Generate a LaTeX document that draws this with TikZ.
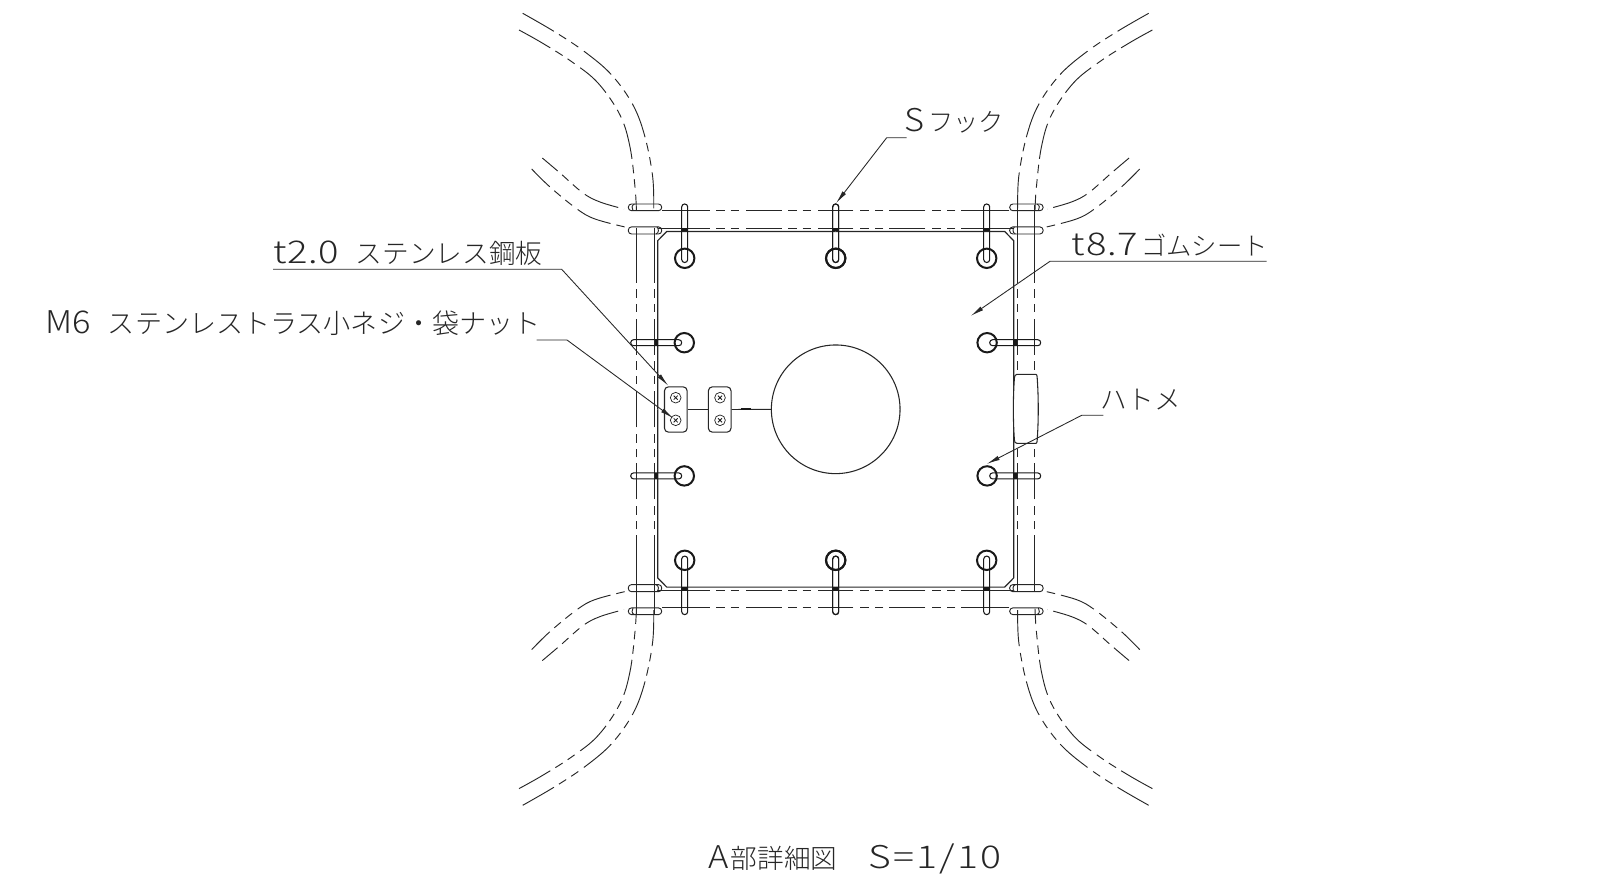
\documentclass[tikz,border=0pt]{standalone}
\usepackage{fontspec}
\setmainfont{Noto Sans CJK JP}[UprightFont=* Light,BoldFont=* Light]
\newfontfamily\jpf{Noto Sans CJK JP}[UprightFont=* Light,Scale=1]
\newcommand{\kn}[1]{{\fontsize{20pt}{22pt}\selectfont\jpf #1}}
\newcommand{\knm}[1]{{\fontsize{20.3pt}{22pt}\selectfont\jpf #1}}
\newcommand{\kns}[1]{{\fontsize{19pt}{22pt}\selectfont\jpf #1}}
\newcommand{\lt}[1]{{\fontsize{23.5pt}{25pt}\selectfont\jpf\addfontfeature{FakeStretch=1.22,LetterSpace=2} #1}}
\newcommand{\ltp}[1]{{\fontsize{23.5pt}{25pt}\selectfont\jpf\addfontfeature{FakeStretch=1.1} #1}}
\newcommand{\ltw}[1]{{\fontsize{23.5pt}{25pt}\selectfont\jpf\addfontfeature{FakeStretch=1.25,LetterSpace=7} #1}}
\usetikzlibrary{arrows.meta}
\tikzset{
  x=0.75pt,y=-0.75pt,
  thinl/.style={line width=0.7pt,black!85},
  sheetl/.style={line width=0.9pt,black!85},
  phantoml/.style={thinl,dash pattern=on 27pt off 4.5pt on 6.4pt off 4.5pt on 6.4pt off 5.2pt},
  hookl/.style={line width=0.8pt,black!90,rounded corners=2.2pt},
  eyelet/.style={line width=1.5pt,black!90},
  leader/.style={line width=0.65pt,black!85},
  leaderarrow/.style={leader,-{Latex[length=10pt,width=3.4pt]}},
  lbl/.style={inner sep=0pt,anchor=base west,black!85},
  plate/.style={draw,line width=0.8pt,black!85,rounded corners=3pt,minimum width=17pt,minimum height=34pt,inner sep=0pt},
  screw/.style={draw,circle,line width=0.55pt,black!85,minimum size=8pt,inner sep=0pt}
}
\begin{document}
\begin{tikzpicture}
\useasboundingbox (0,0) rectangle (1603,891);
% the four mirrored quarters
\foreach \sx/\dx/\sy/\dy in {1/0/1/0,-1/1671.4/1/0,1/0/-1/818.6,-1/1671.4/-1/818.6}{
\begin{scope}[shift={(\dx,\dy)},xscale=\sx,yscale=\sy]
  % long straps
  \draw[phantoml] plot[smooth,tension=.6] coordinates {(522.7,13.3) (555,32) (585,52) (611.7,75) (633,105) (645,137) (652.7,177) (653.7,210)};
  \draw[phantoml] plot[smooth,tension=.6] coordinates {(519,30) (541.7,42.7) (571.7,61.7) (598,83) (620,115) (630,147) (635,187) (636.4,210)};
  % short straps
  \draw[phantoml,dash phase=12pt] plot[smooth,tension=.6] coordinates {(542.3,158) (560,173) (583,193) (600,202) (624,209)};
  \draw[phantoml,dash phase=8pt] plot[smooth,tension=.6] coordinates {(531.7,169) (550,187) (577,209) (595,219) (625,227)};
  % horizontal band
  \draw[thinl] (662,210.7) -- (674,210.7) (658,228) -- (674,228);
  \draw[phantoml] (674,210.7) -- (835.7,210.7);
  \draw[phantoml] (674,228) -- (835.7,228);
  % vertical band
  \draw[thinl] (636.7,228) -- (636.7,247.3) (654,228) -- (654,247.3);
  \draw[phantoml] (636.7,247.3) -- (636.7,409.3);
  \draw[phantoml] (654,247.3) -- (654,409.3);
  % sheet outline
  \draw[sheetl] (835.7,231.5) -- (666.7,231.5) -- (657.7,240.7) -- (657.7,409.3);
  % corner slots
  \draw[thinl,rounded corners=2.4pt] (628.3,204) rectangle (661.7,210.7);
  \draw[thinl,rounded corners=2.4pt] (628.3,226.9) rectangle (661.7,234);
  \draw[thinl] (634.5,204) .. controls (631.5,205) and (631.5,208.5) .. (633,210.7);
  \draw[thinl] (656,234) .. controls (659,233) and (659,229) .. (657,226.9);
  % eyelets and hooks, top row
  \foreach \hx in {684.7,835.7}{
    \draw[eyelet] (\hx,258.3) circle (9.7);
    \draw[hookl] (\hx-3,204) rectangle (\hx+3,262.5);
    \fill[black!90] (\hx-3,228) rectangle (\hx+3,231.5);
  }
  % eyelet and hook, side
  \draw[eyelet] (684.3,342.7) circle (9.7);
  \draw[hookl] (630.7,339.7) rectangle (681.7,345.7);
  \fill[black!90] (654.5,339.7) rectangle (658,345.7);
\end{scope}}
% verticals running over the slots at two corners
\draw[thinl] (1017.3,205) -- (1017.3,228) (1034.7,205) -- (1034.7,228);
\draw[thinl] (636.7,590.6) -- (636.7,613.6) (654,590.6) -- (654,613.6);
% buckle
\draw[draw=black!85,fill=white,line width=0.8pt] (1017,374.3) -- (1036,374.3) .. controls (1037,374.3) and (1037,376) .. (1037.2,378)
  .. controls (1038.6,398) and (1038.6,420) .. (1037.2,440) .. controls (1037,442) and (1037,443.3) .. (1036,443.3)
  -- (1017,443.3) .. controls (1015,443.3) and (1014.6,442) .. (1014.4,440)
  .. controls (1013,420) and (1013,398) .. (1014.4,378) .. controls (1014.6,376) and (1015,374.3) .. (1017,374.3) -- cycle;
% centre hole, plates, screws
\node[draw,circle,line width=0.8pt,black!85,minimum size=96.5pt,inner sep=0pt] (hole) at (835.7,409.3) {};
\node[plate] (plateA) at (675.8,409.5) {};
\node[plate] (plateB) at (719.7,409.5) {};
\draw[thinl] (plateA.east) -- (plateB.west);
\draw[thinl] (plateB.east) -- (hole.west);
\fill[black!90] (740.7,408.2) rectangle (750.7,410.4);
\foreach \nm/\cx/\cy in {sa/675.7/397.7,sb/675.7/420.3,sc/720/397.7,sd/720/420.3}{
  \node[screw] (\nm) at (\cx,\cy) {};
  \draw[line width=0.6pt,black!90] (\cx-2,\cy-2) -- (\cx+2,\cy+2) (\cx-2,\cy+2) -- (\cx+2,\cy-2);
}
% labels
\node[lbl] (tS) at (904.7,131.7) {\makebox[17.5pt][l]{\ltp{S}}\kns{フック}};
\node[lbl] (tA) at (273,264) {\makebox[62pt][l]{\lt{t2.0}}\kn{ステンレス鋼板}};
\node[lbl] (tB) at (45,334) {\makebox[47pt][l]{\ltp{M6}}\knm{ステンレストラス小ネジ・袋ナット}};
\node[lbl] (tC) at (1071.7,256) {\makebox[52pt][l]{\lt{t8.7}}\kns{ゴムシート}};
\node[lbl] (tD) at (1100,409) {\kn{ハトメ}};
\node[lbl] (tE) at (708,868.7) {\makebox[120pt][l]{\makebox[17pt][l]{\ltp{A}}\kn{部詳細図}}\ltw{S=1/10}};
% leaders
\coordinate (aS) at (906.7,137.7); \coordinate (bS) at (886.7,137.7); \coordinate (cS) at (836,203.3);
\coordinate (aA) at (273,269.3); \coordinate (bA) at (561.7,269.3); \coordinate (cA) at (668.3,385.7);
\coordinate (aB) at (536.7,340); \coordinate (bB) at (567,340); \coordinate (cB) at (673.3,418.3);
\coordinate (aC) at (1266.7,261.3); \coordinate (bC) at (1050,261.3); \coordinate (cC) at (970.7,316);
\coordinate (aD) at (1103.3,415.3); \coordinate (bD) at (1081.7,415.3); \coordinate (cD) at (986.7,464);
\draw[leaderarrow] (aS) -- (bS) -- (cS);
\draw[leaderarrow] (aA) -- (bA) -- (cA);
\draw[leaderarrow] (aB) -- (bB) -- (cB);
\draw[leaderarrow] (aC) -- (bC) -- (cC);
\draw[leaderarrow] (aD) -- (bD) -- (cD);
\end{tikzpicture}
\end{document}
